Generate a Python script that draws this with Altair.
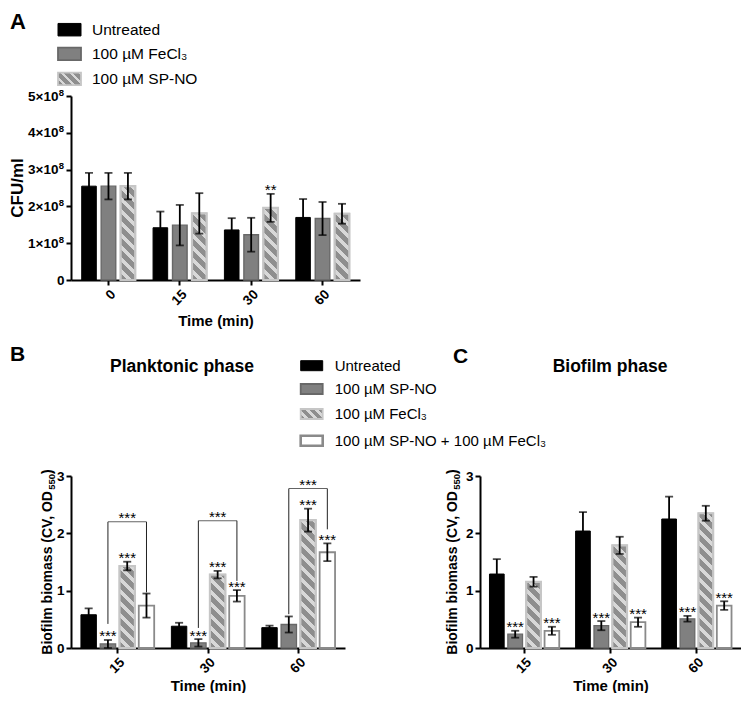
import altair as alt
import pandas as pd

FONT = "Liberation Sans"

# ---------------- Panel A data ----------------
a_times = ["0", "15", "30", "60"]
a_groups = ["Untreated", "100 µM FeCl₃", "100 µM SP-NO"]
a_untreated = [2.55e8, 1.42e8, 1.36e8, 1.70e8]
a_untreated_err = [0.36e8, 0.44e8, 0.32e8, 0.50e8]
a_fecl3 = [2.55e8, 1.49e8, 1.23e8, 1.67e8]
a_fecl3_err = [0.36e8, 0.55e8, 0.46e8, 0.45e8]
a_spno = [2.55e8, 1.81e8, 1.96e8, 1.80e8]
a_spno_err = [0.36e8, 0.55e8, 0.38e8, 0.27e8]
a_sig_time = ["30"]
a_sig_group = ["100 µM SP-NO"]
a_sig_text = ["**"]
a_yticks = [0, 1e8, 2e8, 3e8, 4e8, 5e8]

# ---------------- Panels B / C data ----------------
bc_times = ["15", "30", "60"]
bc_groups = ["Untreated", "100 µM SP-NO", "100 µM FeCl₃", "100 µM SP-NO + 100 µM FeCl₃"]
bc_yticks = [0, 1, 2, 3]

b_untreated = [0.58, 0.38, 0.355]
b_untreated_err = [0.11, 0.06, 0.035]
b_spno = [0.07, 0.09, 0.41]
b_spno_err = [0.07, 0.065, 0.14]
b_fecl3 = [1.43, 1.28, 2.23]
b_fecl3_err = [0.075, 0.065, 0.20]
b_combo = [0.74, 0.91, 1.67]
b_combo_err = [0.21, 0.10, 0.155]
b_sig_time = ["15", "15", "30", "30", "30", "60", "60"]
b_sig_group = [bc_groups[1], bc_groups[2], bc_groups[1], bc_groups[2], bc_groups[3], bc_groups[2], bc_groups[3]]
b_br_time = ["15", "30", "60"]
b_br_left = [0.42, 0.35, 0.59]
b_br_right = [0.97, 1.17, 2.07]
b_br_top = [2.2, 2.22, 2.78]

c_untreated = [1.29, 2.04, 2.25]
c_untreated_err = [0.26, 0.33, 0.39]
c_spno = [0.24, 0.39, 0.51]
c_spno_err = [0.06, 0.08, 0.05]
c_fecl3 = [1.155, 1.79, 2.35]
c_fecl3_err = [0.085, 0.15, 0.13]
c_combo = [0.30, 0.45, 0.74]
c_combo_err = [0.07, 0.08, 0.075]
c_sig_time = ["15", "15", "30", "30", "60", "60"]
c_sig_group = [bc_groups[1], bc_groups[3], bc_groups[1], bc_groups[3], bc_groups[1], bc_groups[3]]


def long_df(times, groups, means, errs):
    rows = []
    for g, ms, es in zip(groups, means, errs):
        for t, m, e in zip(times, ms, es):
            rows.append({"time": t, "group": g, "mean": m, "lo": max(m - e, 0.0), "hi": m + e})
    return pd.DataFrame(rows)


def band(W, n, pin, pout):
    step = W / (n - pin + 2 * pout)
    return step, step * (1 - pin)


def hatch(w, h, period=12.0, dark="#8e8e8e", light="#d8d8d8", frac=0.58):
    n = max((w + h) / period, 1.0)
    lam = (w + h) / (w * w + h * h)
    stops = []
    k = 0
    while k < n:
        a = round(k / n, 4)
        b = round(min((k + frac) / n, 1.0), 4)
        c = round(min((k + 1) / n, 1.0), 4)
        stops += [{"offset": a, "color": dark}, {"offset": b, "color": dark},
                  {"offset": b, "color": light}, {"offset": c, "color": light}]
        k += 1
    return {"gradient": "linear", "x1": 0, "y1": 1,
            "x2": round(lam * w, 5), "y2": round(1 - lam * h, 5), "stops": stops}


AX = dict(domainColor="black", domainWidth=2, tickColor="black", tickWidth=2, tickSize=5,
          labelFont=FONT, labelFontSize=13.5, labelFontWeight="bold", labelColor="black",
          titleFont=FONT, titleFontWeight="bold", titleColor="black", grid=False)

STYLE_BLACK = dict(fill="black", stroke="black", strokeWidth=1)
STYLE_GRAY = dict(fill="#808080", stroke="#686868", strokeWidth=1.8)
STYLE_WHITE = dict(fill="white", stroke="#8a8a8a", strokeWidth=2.6)
HATCH_STROKE = "#c6c6c6"
STYLE_HATCH_BASE = dict(fill="#d8d8d8", stroke=HATCH_STROKE, strokeWidth=2.2)


def text_layer(txt, x, y, size, weight="bold", align="left", baseline="alphabetic", angle=0):
    return alt.Chart(pd.DataFrame({"t": [txt]})).mark_text(
        font=FONT, fontSize=size, fontWeight=weight, align=align, baseline=baseline,
        color="black", angle=angle
    ).encode(x=alt.value(x), y=alt.value(y), text="t:N")


def legend_layers(labels, styles, x0, sw_w, sw_h, text_x, centers, size=15):
    out = []
    for lab, st, yc in zip(labels, styles, centers):
        one = pd.DataFrame({"label": [lab]})
        if st == "hatch":
            kw = dict(fill=hatch(sw_w, sw_h, period=9.0), stroke=HATCH_STROKE, strokeWidth=1.8)
        else:
            kw = dict(st)
        out.append(alt.Chart(one).mark_rect(**kw).encode(
            x=alt.value(x0), x2=alt.value(x0 + sw_w),
            y=alt.value(yc - sw_h / 2), y2=alt.value(yc + sw_h / 2)))
        out.append(alt.Chart(one).mark_text(font=FONT, fontSize=size, align="left",
                                            baseline="middle", color="black").encode(
            x=alt.value(text_x), y=alt.value(yc), text="label:N"))
    return out


def subscript_title(main, sub, close, xb, H, size=14, sub_size=9.5):
    # Arial/Liberation Sans Bold advance widths (em) for the characters used
    wid = {"B": .722, "i": .278, "o": .611, "f": .333, "l": .278, "m": .889, " ": .278,
           "b": .611, "a": .556, "s": .556, "(": .333, "C": .722, "V": .667, ",": .278,
           "O": .778, "D": .722, ")": .333, "5": .556, "0": .556}
    w1 = sum(wid.get(ch, .6) for ch in main) * size
    w2 = sum(wid.get(ch, .6) for ch in sub) * sub_size
    w3 = sum(wid.get(ch, .6) for ch in close) * size
    start = H / 2 + (w1 + w2 + w3) / 2
    return [text_layer(main, xb, start, size, angle=270),
            text_layer(sub, xb + 3.2, start - w1, sub_size, angle=270),
            text_layer(close, xb, start - w1 - w2, size, angle=270)]


def panel(df, times, groups, styles, hatch_group, W, H, ymax, yvals, label_expr, label_pad,
          xtitle_y, xpin, xpout, opin, sig_df, brackets=None, extras=()):
    xscale = alt.Scale(domain=times, paddingInner=xpin, paddingOuter=xpout)
    oscale = alt.Scale(domain=groups, paddingInner=opin, paddingOuter=0)
    yscale = alt.Scale(domain=[0, ymax], nice=False, zero=True)
    xaxis = alt.Axis(labelAngle=-45, titleY=xtitle_y, titleBaseline="top", titleFontSize=15,
                     labelPadding=2, **AX)
    yaxis = alt.Axis(values=yvals, labelExpr=label_expr, title=None, labelPadding=label_pad, **AX)

    def X():
        return alt.X("time:N", scale=xscale, axis=xaxis, title="Time (min)")

    XO = alt.XOffset("group:N", scale=oscale)

    def Y(field):
        return alt.Y(field, scale=yscale, axis=yaxis, title=None)

    step_x, bw_x = band(W, len(times), xpin, xpout)
    step_o, bw_o = band(bw_x, len(groups), opin, 0)

    bars = alt.Chart(df).mark_bar().encode(
        x=X(), xOffset=XO, y=Y("mean:Q"),
        fill=alt.Fill("group:N", scale=alt.Scale(domain=groups, range=[s["fill"] for s in styles]), legend=None),
        stroke=alt.Stroke("group:N", scale=alt.Scale(domain=groups, range=[s["stroke"] for s in styles]), legend=None),
        strokeWidth=alt.StrokeWidth("group:O", scale=alt.Scale(domain=groups, range=[s["strokeWidth"] for s in styles]), legend=None),
    )
    layers = [bars]
    hdf = df[df["group"] == hatch_group]
    for i in range(len(hdf)):
        row = hdf.iloc[[i]]
        h = float(row["mean"].iloc[0]) / ymax * H
        layers.append(alt.Chart(row).mark_bar(fill=hatch(bw_o, h), stroke=HATCH_STROKE, strokeWidth=2.2).encode(
            x=X(), xOffset=XO, y=Y("mean:Q")))
    layers.append(alt.Chart(df).mark_rule(color="black", strokeWidth=1.8).encode(
        x=X(), xOffset=XO, y=Y("lo:Q"), y2="hi:Q"))
    for f in ["lo:Q", "hi:Q"]:
        layers.append(alt.Chart(df).mark_tick(color="black", thickness=1.8, size=8).encode(
            x=X(), xOffset=XO, y=Y(f)))
    layers.append(alt.Chart(sig_df).mark_text(font=FONT, fontSize=15, color="black",
                                              baseline="alphabetic", dy=1.5).encode(
        x=X(), xOffset=XO, y=Y("hi:Q"), text="text:N"))
    if brackets is not None:
        legs, tops = brackets
        layers.append(alt.Chart(legs).mark_rule(color="#222", strokeWidth=1).encode(
            x=X(), xOffset=XO, y=Y("lo:Q"), y2="hi:Q"))
        layers.append(alt.Chart(tops).mark_tick(color="#222", thickness=1, size=2 * step_o).encode(
            x=X(), xOffset=XO, y=Y("top:Q")))
        layers.append(alt.Chart(tops).mark_text(font=FONT, fontSize=15, color="black",
                                                baseline="alphabetic", dy=1.5).encode(
            x=X(), xOffset=XO, y=Y("top:Q"), text="text:N"))
    for e in extras:
        if callable(e):
            layers.append(e(X, XO, Y))
        else:
            layers.append(e)
    return alt.layer(*layers).properties(width=W, height=H)


def sig_frame(df, times, groups, texts):
    rows = []
    for t, g, s in zip(times, groups, texts):
        hi = df[(df["time"] == t) & (df["group"] == g)]["hi"].iloc[0]
        rows.append({"time": t, "group": g, "text": s, "hi": hi})
    return pd.DataFrame(rows)


# ---------------- Panel A ----------------
dfa = long_df(a_times, a_groups, [a_untreated, a_fecl3, a_spno],
              [a_untreated_err, a_fecl3_err, a_spno_err])
sig_a = sig_frame(dfa, a_sig_time, a_sig_group, a_sig_text)
WA, HA = 289, 184
sup_df = pd.DataFrame({"v": [v for v in a_yticks if v > 0], "s": ["8"] * (len(a_yticks) - 1)})


def sup_layer(X, XO, Y):
    # exponent "8" of the ×10⁸ tick labels, placed on the y scale
    return alt.Chart(sup_df).mark_text(font=FONT, fontSize=9.5, fontWeight="bold", color="black",
                                       align="right", baseline="alphabetic", dy=-0.5).encode(
        x=alt.value(-7), y=Y("v:Q"), text="s:N")


extras_a = [text_layer("A", -61, -67, 22),
            text_layer("CFU/ml", -53.5, HA / 2, 17, align="center", baseline="middle", angle=270),
            sup_layer] + legend_layers(
    a_groups, [STYLE_BLACK, STYLE_GRAY, "hatch"], -13, 23, 12.5, 21, [-66.3, -42.2, -17.2], size=15.5)
chart_a = panel(dfa, a_times, a_groups, [STYLE_BLACK, STYLE_GRAY, STYLE_HATCH_BASE],
                a_groups[2], WA, HA, 5e8, a_yticks,
                "datum.value == 0 ? '0' : format(datum.value / 1e8, 'd') + '×10'",
                {"condition": {"test": "datum.value == 0", "value": 2}, "value": 8},
                33, 0.25, 0.15, 0.25, sig_a, extras=extras_a)

# ---------------- Panel B ----------------
bc_styles = [STYLE_BLACK, STYLE_GRAY, STYLE_HATCH_BASE, STYLE_WHITE]
WB, HB = 274, 172
dfb = long_df(bc_times, bc_groups, [b_untreated, b_spno, b_fecl3, b_combo],
              [b_untreated_err, b_spno_err, b_fecl3_err, b_combo_err])
sig_b = sig_frame(dfb, b_sig_time, b_sig_group, ["***"] * len(b_sig_time))
legs_rows = []
for t, l, r, tp in zip(b_br_time, b_br_left, b_br_right, b_br_top):
    legs_rows.append({"time": t, "group": bc_groups[1], "lo": l, "hi": tp})
    legs_rows.append({"time": t, "group": bc_groups[3], "lo": r, "hi": tp})
legs_b = pd.DataFrame(legs_rows)
tops_b = pd.DataFrame({"time": b_br_time, "group": [bc_groups[2]] * 3, "top": b_br_top, "text": ["***"] * 3})
extras_b = [text_layer("B", -61, -114.7, 21),
            text_layer("Planktonic phase", 111, -109, 17.5, align="center", baseline="middle")] \
    + subscript_title("Biofilm biomass (CV, OD", "550", ")", -19, HB) \
    + legend_layers(bc_groups, [STYLE_BLACK, STYLE_GRAY, "hatch", STYLE_WHITE], 229.7, 22, 10, 263.7,
                    [-110.3, -87, -62, -35.3])
chart_b = panel(dfb, bc_times, bc_groups, bc_styles, bc_groups[2], WB, HB, 3, bc_yticks,
                "datum.label", 2, 30, 0.19, 0.11, 0.2, sig_b,
                brackets=(legs_b, tops_b), extras=extras_b)

# ---------------- Panel C ----------------
WC, HC = 261, 172
dfc = long_df(bc_times, bc_groups, [c_untreated, c_spno, c_fecl3, c_combo],
              [c_untreated_err, c_spno_err, c_fecl3_err, c_combo_err])
sig_c = sig_frame(dfc, c_sig_time, c_sig_group, ["***"] * len(c_sig_time))
extras_c = [text_layer("C", -27, -113, 21),
            text_layer("Biofilm phase", 130, -109, 17.5, align="center", baseline="middle")] \
    + subscript_title("Biofilm biomass (CV, OD", "550", ")", -23, HC)
chart_c = panel(dfc, bc_times, bc_groups, bc_styles, bc_groups[2], WC, HC, 3, bc_yticks,
                "datum.label", 2, 30, 0.19, 0.11, 0.2, sig_c, extras=extras_c)

indep = dict(x="independent", y="independent", xOffset="independent", fill="independent",
             stroke="independent", strokeWidth="independent")
row_bc = alt.hconcat(chart_b, chart_c, spacing=135, bounds="flush").resolve_scale(**indep)
chart = alt.vconcat(chart_a, row_bc, spacing=196, bounds="flush").resolve_scale(**indep).properties(
    padding={"top": 3, "bottom": 0, "left": 0, "right": 0}).configure(
    font=FONT, view=alt.ViewConfig(stroke=None))

chart.save("out.html", embed_options={"renderer": "svg", "actions": False})
